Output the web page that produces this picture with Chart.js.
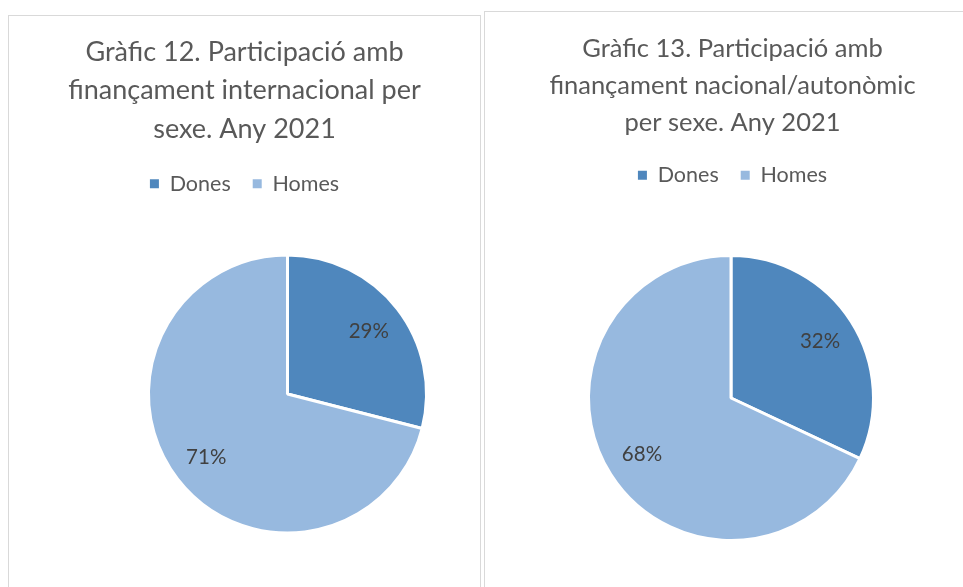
<!DOCTYPE html>
<html>
<head>
<meta charset="utf-8">
<script src="https://cdn.jsdelivr.net/npm/chart.js@4/dist/chart.umd.min.js"></script>
<style>
  html, body { margin: 0; padding: 0; background: #fff; width: 963px; height: 587px; overflow: hidden; }
  .panel { position: absolute; box-sizing: border-box; border: 1px solid #d9d9d9; background: #fff; }
  #panelLeft { left: 8px; top: 15px; width: 473px; height: 600px; }
  #panelRight { left: 484px; top: 11px; width: 497px; height: 600px; }
  canvas { display: block; }
</style>
</head>
<body>
<div class="panel" id="panelLeft"><canvas id="chartLeft" width="471" height="590"></canvas></div>
<div class="panel" id="panelRight"><canvas id="chartRight" width="495" height="590"></canvas></div>
<script>
const categories = ['Dones', 'Homes'];
const internacional = [29, 71];
const nacional = [32, 68];
const titleLeft = ['Gràfic 12. Participació amb', 'finançament internacional per', 'sexe. Any 2021'];
const titleRight = ['Gràfic 13. Participació amb', 'finançament nacional/autonòmic', 'per sexe. Any 2021'];
const colors = ['#4f87bd', '#97b9df'];

Chart.defaults.font.family = 'Lato, "Open Sans", sans-serif';

// place the pie like the plot area of the original sheet
const plotAreaPlugin = {
  id: 'plotArea',
  afterLayout(chart, args, opts) {
    if (!opts || opts.size == null) return;
    const a = chart.chartArea;
    a.left = opts.left;
    a.top = opts.top;
    a.right = opts.left + opts.size;
    a.bottom = opts.top + opts.size;
    a.width = opts.size;
    a.height = opts.size;
  }
};

const pctLabels = {
  id: 'pctLabels',
  afterDatasetsDraw(chart) {
    const ctx = chart.ctx;
    const meta = chart.getDatasetMeta(0);
    const values = chart.data.datasets[0].data;
    ctx.save();
    ctx.font = '20.5px Lato, "Open Sans", sans-serif';
    ctx.fillStyle = '#404040';
    ctx.textAlign = 'center';
    ctx.textBaseline = 'middle';
    meta.data.forEach((arc, i) => {
      const p = arc.getProps(['x', 'y', 'startAngle', 'endAngle', 'outerRadius']);
      const mid = (p.startAngle + p.endAngle) / 2;
      const r = p.outerRadius * 0.74;
      ctx.fillText(values[i] + '%', p.x + Math.cos(mid) * r, p.y + Math.sin(mid) * r);
    });
    ctx.restore();
  }
};

const pieOverrides = (Chart.overrides && Chart.overrides.pie) || Chart.registry.getController('pie').overrides;
const baseLabels = pieOverrides.plugins.legend.labels.generateLabels;

const makePie = (id, title, values, titleOpts, plot) => {
  new Chart(document.getElementById(id), {
    type: 'pie',
    data: {
      labels: categories,
      datasets: [{
        data: values,
        backgroundColor: colors,
        borderColor: '#ffffff',
        borderWidth: 3,
      }],
    },
    options: {
      responsive: false,
      animation: false,
      events: [],
      plugins: {
        title: {
          display: true,
          text: title,
          color: '#595959',
          font: { size: titleOpts.size, weight: 'normal', lineHeight: titleOpts.lineHeight },
          padding: { top: titleOpts.top, bottom: titleOpts.bottom },
        },
        legend: {
          display: true,
          position: 'top',
          labels: {
            color: '#595959',
            font: { size: 21.5 },
            boxWidth: 9,
            boxHeight: 9,
            padding: 22,
            generateLabels: chart => baseLabels(chart).map(l => ({ ...l, lineWidth: 0, strokeStyle: l.fillStyle })),
          },
        },
        tooltip: { enabled: false },
        plotArea: plot,
      },
    },
    plugins: [plotAreaPlugin, pctLabels],
  });
};

makePie('chartLeft', titleLeft, internacional, { size: 27, lineHeight: 38.5 / 27, top: 17, bottom: 2.5 }, { left: 138, top: 237.5, size: 281 });
makePie('chartRight', titleRight, nacional, { size: 25.5, lineHeight: 37 / 25.5, top: 18, bottom: 1.5 }, { left: 102, top: 242, size: 288 });
</script>
</body>
</html>
